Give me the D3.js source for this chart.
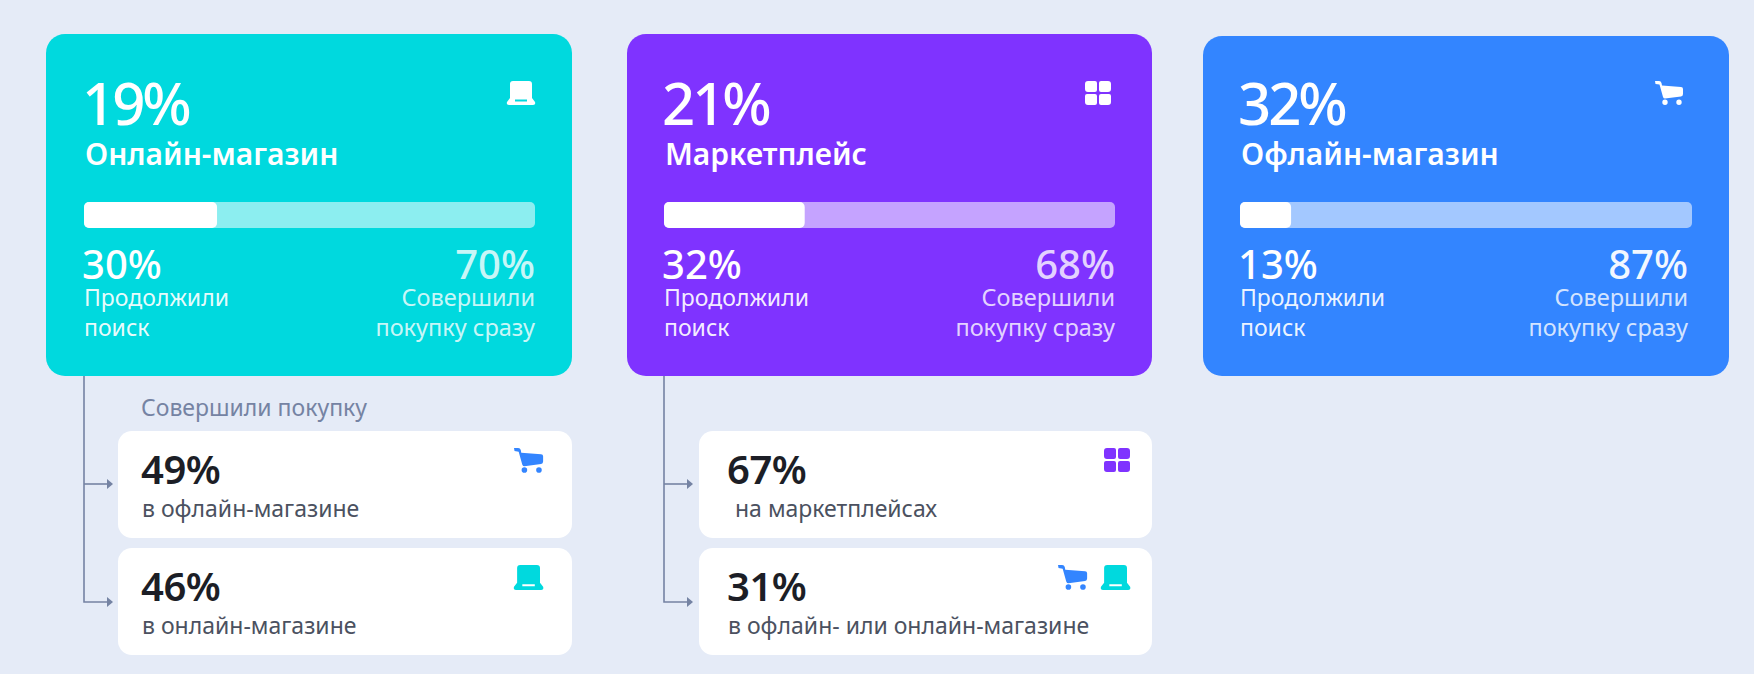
<!DOCTYPE html>
<html>
<head>
<meta charset="utf-8">
<script src="https://d3js.org/d3.v7.min.js"></script>
<style>
  body { margin: 0; background: #e5ebf7; }
  svg { display: block; }
  text { font-family: "Noto Sans", sans-serif; }
</style>
</head>
<body>
<svg id="chart" width="1754" height="674"></svg>
<script>
// values
var channels = ["Онлайн-магазин", "Маркетплейс", "Офлайн-магазин"];
var channelShare = [19, 21, 32];
var continuedShare = [30, 32, 13];
var boughtShare = [70, 68, 87];
// white part of the bar as it is drawn, a bit shorter than the labels say
var barShare = [29.5, 31.2, 11.3];
var continuedLabel = ["Продолжили", "поиск"];
var boughtLabel = ["Совершили", "покупку сразу"];
var channelIcons = ["laptop", "grid", "cart"];

var followHeader = "Совершили покупку";
var followColumn = [0, 0, 1, 1];
var followShare = [49, 46, 67, 31];
var followLabels = ["в офлайн-магазине", "в онлайн-магазине", "на маркетплейсах", "в офлайн- или онлайн-магазине"];
var followIcons = [["cart"], ["laptop"], ["grid"], ["cart", "laptop"]];

var cyan = "#00d9de", purple = "#7f33ff", blue = "#3385ff", lineColor = "#7583a3";
var cardColors = [cyan, purple, blue];

var svg = d3.select("#chart");

var cardLeft = [46, 627, 1203];
var cardRight = [572, 1152, 1729];
var cardTop = [34, 34, 36];
var cardBottom = 376;
var padLeft = [84, 664, 1240];
var padRight = [535, 1115, 1692];
var textRight = [535, 1115, 1688];

// icons are drawn in a 28x24 box
var iconPaths = {
  laptop: "M6 0H22Q25 0 25 3V17L28 21Q29 24 26 24H2Q-1 24 0 21L3 17V3Q3 0 6 0ZM8 18.5V20.5H20V18.5Z",
  grid: "M3 0H10Q12 0 12 2V9Q12 11 10 11H3Q0 11 0 8V3Q0 0 3 0ZM16 0H23Q26 0 26 3V8Q26 11 23 11H16Q14 11 14 9V2Q14 0 16 0ZM2 13H10Q12 13 12 15V22Q12 24 10 24H3Q0 24 0 21V15Q0 13 2 13ZM16 13H24Q26 13 26 15V21Q26 24 23 24H16Q14 24 14 22V15Q14 13 16 13Z",
  cart: "M0 0H4Q6 0 6.5 2L7 4.5L26 6Q28 6 28 8V13Q28 15 26 15.5L10 17.5Q8.5 17.5 8 16L4.5 3.5L0.5 3Z" +
        "M10 18.5a2.7 2.7 0 1 0 0.01 5.4ZM10 18.5a2.7 2.7 0 1 1 -0.01 5.4ZM24 18.5a2.7 2.7 0 1 0 0.01 5.4ZM24 18.5a2.7 2.7 0 1 1 -0.01 5.4Z"
};

function drawIcon(x, y, name, color, scale) {
  svg.append("path")
    .attr("transform", "translate(" + x + "," + y + ") scale(" + (scale || 1) + ")")
    .attr("d", iconPaths[name])
    .attr("fill-rule", "evenodd")
    .attr("fill", color);
}

function label(x, y, txt, size, weight, color, spacing, anchor) {
  return svg.append("text")
    .attr("x", x).attr("y", y)
    .attr("font-size", size)
    .attr("font-weight", weight)
    .attr("fill", color)
    .attr("letter-spacing", spacing)
    .attr("text-anchor", anchor || "start")
    .text(txt);
}

// connector lines go under the cards
var followY = [484, 602];
[0, 1].forEach(function(c) {
  svg.append("path")
    .attr("d", d3.line()([[padLeft[c], cardBottom], [padLeft[c], followY[1]], [padLeft[c] + 24, followY[1]]]))
    .attr("fill", "none").attr("stroke", lineColor).attr("stroke-width", 1.6);
  svg.append("path")
    .attr("d", d3.line()([[padLeft[c], followY[0]], [padLeft[c] + 24, followY[0]]]))
    .attr("fill", "none").attr("stroke", lineColor).attr("stroke-width", 1.6);
  followY.forEach(function(y) {
    var tip = padLeft[c] + 29;
    svg.append("path")
      .attr("d", d3.line()([[tip, y], [tip - 6, y - 5], [tip - 6, y + 5]]) + "Z")
      .attr("fill", lineColor);
  });
});

channels.forEach(function(name, i) {
  svg.append("rect")
    .attr("x", cardLeft[i]).attr("y", cardTop[i])
    .attr("width", cardRight[i] - cardLeft[i]).attr("height", cardBottom - cardTop[i])
    .attr("rx", 19)
    .attr("fill", cardColors[i]);

  label(padLeft[i] - 2, 125, channelShare[i] + "%", 58, 550, "#fff", -3);
  label(padLeft[i] + 1, 165, name, 30, 600, "#fff", 0);
  drawIcon(i == 1 ? 1085 : i == 0 ? 507 : 1655, 81, channelIcons[i], "#fff");

  // bar
  var x = d3.scaleLinear().domain([0, 100]).range([padLeft[i], padRight[i]]);
  svg.append("rect")
    .attr("x", x(0)).attr("y", 202)
    .attr("width", x(100) - x(0)).attr("height", 26)
    .attr("rx", 5)
    .attr("fill", "#fff").attr("fill-opacity", 0.55);
  svg.append("rect")
    .attr("x", x(0)).attr("y", 202)
    .attr("width", x(barShare[i]) - x(0)).attr("height", 26)
    .attr("rx", 5)
    .attr("fill", "#fff");

  var faded = i == 2 ? 0.95 : 0.8;
  label(padLeft[i] - 2, 279, continuedShare[i] + "%", 40, 550, "#fff", 0);
  label(padLeft[i], 306, continuedLabel[0], 23, 400, "#fff", 0).attr("fill-opacity", 0.93);
  label(padLeft[i], 336, continuedLabel[1], 23, 400, "#fff", 0).attr("fill-opacity", 0.93);
  label(textRight[i], 279, boughtShare[i] + "%", 40, 550, "#fff", 0, "end").attr("fill-opacity", faded);
  label(textRight[i], 306, boughtLabel[0], 23.5, 400, "#fff", 0, "end").attr("fill-opacity", 0.8);
  label(textRight[i], 336, boughtLabel[1], 23.5, 400, "#fff", 0, "end").attr("fill-opacity", 0.8);
});

label(141, 416, followHeader, 23, 400, lineColor, 0);

var smallLeft = [118, 699];
var smallRight = [572, 1152];
var smallTop = [431, 548];
var smallText = [141, 727];
var iconInset = [29, 22];
followShare.forEach(function(v, i) {
  var c = followColumn[i], row = i % 2;
  svg.append("rect")
    .attr("x", smallLeft[c]).attr("y", smallTop[row])
    .attr("width", smallRight[c] - smallLeft[c]).attr("height", 107)
    .attr("rx", 14)
    .attr("fill", "#fff");
  label(smallText[c], smallTop[row] + 53, v + "%", 40, 600, "#1c1e26", -0.5);
  label(smallText[c] + (i == 2 ? 8 : 1), smallTop[row] + 86, followLabels[i], 23, 400, "#4b5160", 0);
  followIcons[i].forEach(function(name, k) {
    var right = smallRight[c] - iconInset[c];
    var n = followIcons[i].length;
    var iconX = right - (name == "grid" ? 26 : 29) - (n - 1 - k) * 43;
    drawIcon(iconX, smallTop[row] + 17, name, name == "cart" ? blue : name == "laptop" ? cyan : purple, name == "grid" ? 1 : 1.04);
  });
});
</script>
</body>
</html>
